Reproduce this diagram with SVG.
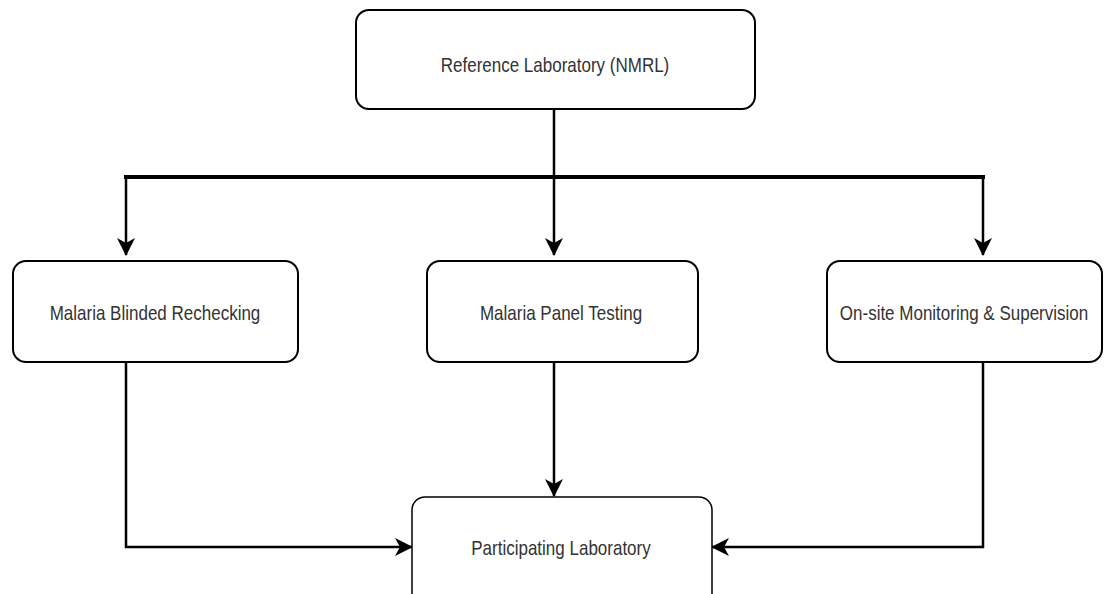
<svg xmlns="http://www.w3.org/2000/svg" width="1104" height="594" viewBox="0 0 1104 594">
<style>
.box{fill:#fff;stroke:#000;stroke-width:2}
.box2{fill:#fff;stroke:#000;stroke-width:1.5}
.lbl{font-family:"Liberation Sans",Arial,sans-serif;font-size:17px;fill:#333;text-anchor:middle}
.c{fill:none;stroke:#000;stroke-width:2.5}
.thick{fill:none;stroke:#000;stroke-width:4}
</style>
<defs>
<marker id="ah" markerUnits="userSpaceOnUse" markerWidth="18" markerHeight="18" viewBox="0 0 18 18" refX="17" refY="9" orient="auto">
<path d="M0,0 L18,9 L0,18 L5,9 z" fill="#000"/>
</marker>
</defs>
<rect width="1104" height="594" fill="#fff"/>
<g id="connectors">
<line class="thick" x1="124" y1="177" x2="985" y2="177"/>
<line class="c" x1="554" y1="109" x2="554" y2="255" marker-end="url(#ah)"/>
<polyline class="c" points="126,177 126,255" marker-end="url(#ah)"/>
<polyline class="c" points="983,177 983,255" marker-end="url(#ah)"/>
<polyline class="c" points="554,362 554,496" marker-end="url(#ah)"/>
<polyline class="c" points="126,362 126,547 412,547" marker-end="url(#ah)"/>
<polyline class="c" points="983,362 983,547 712,547" marker-end="url(#ah)"/>
</g>
<g id="node-nmrl">
<rect class="box" x="356" y="10" width="399" height="99" rx="13"/>
<text class="lbl" transform="translate(555,72) scale(1,1.22)">Reference Laboratory (NMRL)</text>
</g>
<g id="node-blinded">
<rect class="box" x="13" y="261" width="285" height="101" rx="13"/>
<text class="lbl" transform="translate(155,320) scale(1,1.22)">Malaria Blinded Rechecking</text>
</g>
<g id="node-panel">
<rect class="box" x="427" y="261" width="271" height="101" rx="13"/>
<text class="lbl" transform="translate(561,320) scale(1,1.22)">Malaria Panel Testing</text>
</g>
<g id="node-onsite">
<rect class="box" x="827" y="261" width="275" height="101" rx="13"/>
<text class="lbl" transform="translate(964,320) scale(1,1.22)">On-site Monitoring &amp; Supervision</text>
</g>
<g id="node-participating">
<rect class="box2" x="412" y="497" width="300" height="110" rx="13"/>
<text class="lbl" transform="translate(561,555) scale(1,1.22)">Participating Laboratory</text>
</g>
</svg>
